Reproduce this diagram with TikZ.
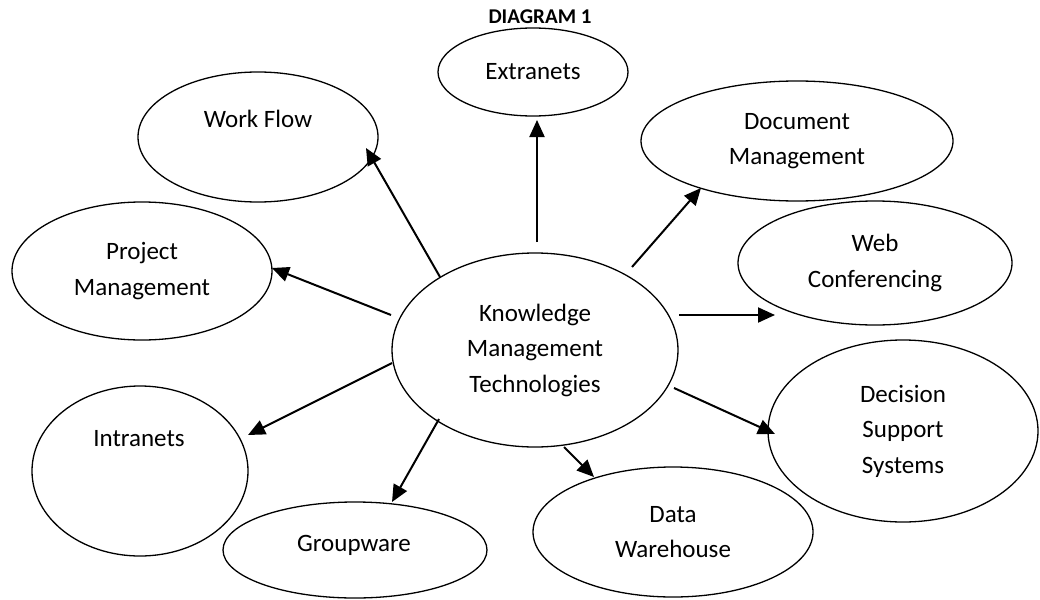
\documentclass[tikz,border=0pt]{standalone}
\usepackage{fontspec}
\setmainfont{Carlito}
\usetikzlibrary{shapes.geometric,arrows.meta}
\begin{document}
\begin{tikzpicture}[x=1pt,y=-1pt,
  bub/.style={draw,ellipse,line width=1.3pt,inner sep=0pt,align=center,font=\fontsize{25}{35.5}\selectfont},
  lbl/.style={inner sep=0pt,align=center,font=\fontsize{25}{35.5}\selectfont},
  arr/.style={line width=2pt,-{Triangle[length=17pt,width=15pt]}}]
\useasboundingbox (0,0) rectangle (1040,599);
\node[font=\bfseries\fontsize{21}{24}\selectfont,inner sep=0pt] (title) at (540,17) {DIAGRAM 1};
\node[bub,minimum width=286pt,minimum height=194pt] (km) at (535,350) {Knowledge\\Management\\Technologies};
\node[bub,minimum width=190pt,minimum height=88pt] (ext) at (533,72) {Extranets};
\node[bub,minimum width=240pt,minimum height=130pt] (wf) at (258,137) {};
\node[lbl] (wft) at (258,119) {Work Flow};
\node[bub,minimum width=260pt,minimum height=138pt] (pm) at (142,271) {Project\\Management};
\node[bub,minimum width=312pt,minimum height=120pt] (dm) at (797,141) {Document\\Management};
\node[bub,minimum width=274pt,minimum height=124pt] (wc) at (875,263) {Web\\Conferencing};
\node[bub,minimum width=216pt,minimum height=170pt] (in) at (140,471) {};
\node[lbl] (int) at (139,439) {Intranets};
\node[bub,minimum width=264pt,minimum height=96pt] (gw) at (355,550) {};
\node[lbl] (gwt) at (354,545) {Groupware};
\node[bub,minimum width=280pt,minimum height=130pt] (dw) at (673,532) {Data\\Warehouse};
\node[bub,minimum width=270pt,minimum height=182pt] (dss) at (903,431) {Decision\\Support\\Systems};
% arrow ends
\coordinate (s1) at (537,242); \coordinate (e1) at (537,120);
\coordinate (s2) at (440,277); \coordinate (e2) at (366,148);
\coordinate (s3) at (391,315); \coordinate (e3) at (272,268);
\coordinate (s4) at (632,267); \coordinate (e4) at (701,188);
\coordinate (s5) at (679,315); \coordinate (e5) at (775,315);
\coordinate (s6) at (674,388); \coordinate (e6) at (775,434);
\coordinate (s7) at (564,447); \coordinate (e7) at (594,477);
\coordinate (s8) at (439,419); \coordinate (e8) at (392,502);
\coordinate (s9) at (392,363); \coordinate (e9) at (248,435);
\draw[arr] (s1) -- (e1);
\draw[arr] (s2) -- (e2);
\draw[arr] (s3) -- (e3);
\draw[arr] (s4) -- (e4);
\draw[arr] (s5) -- (e5);
\draw[arr] (s6) -- (e6);
\draw[arr] (s7) -- (e7);
\draw[arr] (s8) -- (e8);
\draw[arr] (s9) -- (e9);
\end{tikzpicture}
\end{document}
